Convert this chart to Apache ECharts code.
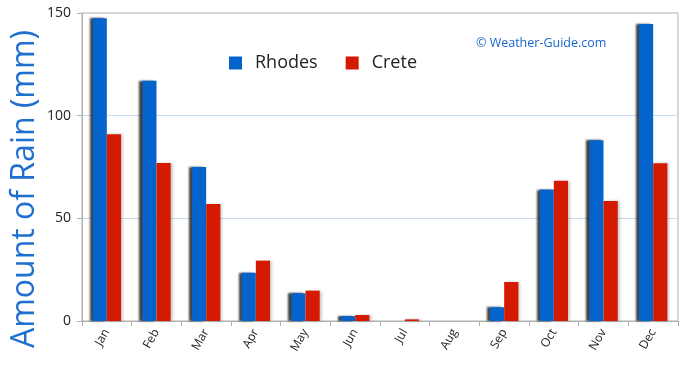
<!DOCTYPE html>
<html><head><meta charset="utf-8">
<script src="https://cdn.jsdelivr.net/npm/echarts@6/dist/echarts.min.js"></script>
<style>html,body{margin:0;padding:0;background:#fff}#c{width:690px;height:372px}</style>
</head><body><div id="c"></div>
<script>
const months = ['Jan','Feb','Mar','Apr','May','Jun','Jul','Aug','Sep','Oct','Nov','Dec'];
const rhodes = [147.5, 117, 75, 23.5, 13.5, 2.4, 0, 0, 6.7, 64, 88, 144.6];
const crete  = [91, 77, 57, 29.4, 14.8, 2.9, 0.8, 0, 19, 68.3, 58.4, 76.8];
const yTicks = [0, 50, 100, 150];

const chart = echarts.init(document.getElementById('c'));
const font = 'Open Sans';
chart.setOption({
  animation: false,
  grid: { left: 82, right: 12, top: 13, bottom: 51, show: true, borderColor: '#b0b0b0', borderWidth: 1, backgroundColor: 'transparent' },
  legend: {
    left: 224, top: 49, itemWidth: 13, itemHeight: 13, itemGap: 28, icon: 'rect',
    textStyle: { fontFamily: font, fontSize: 18, color: '#222', padding: [0, 0, 0, 8] },
    data: ['Rhodes', 'Crete']
  },
  graphic: [
    { type: 'text', x: 25, y: 189, rotation: Math.PI / 2,
      style: { text: 'Amount of Rain (mm)', font: '32px "' + font + '"', fill: '#1e6fcf', align: 'center', verticalAlign: 'middle' } },
    { type: 'text', x: 476, y: 43,
      style: { text: '© Weather-Guide.com', font: '12.5px "' + font + '"', fill: '#1a66cc', align: 'left', verticalAlign: 'middle' } }
  ],
  xAxis: {
    type: 'category', data: months, boundaryGap: true,
    axisLine: { lineStyle: { color: '#b0b0b0' } },
    axisTick: { show: true, length: 5, lineStyle: { color: '#b0b0b0' } },
    axisLabel: { rotate: 60, fontFamily: font, fontSize: 12, color: '#222', margin: 9 }
  },
  yAxis: {
    type: 'value', min: yTicks[0], max: yTicks[yTicks.length - 1], interval: 50,
    axisLine: { show: true, lineStyle: { color: '#b0b0b0' } },
    axisTick: { show: true, length: 5, lineStyle: { color: '#b0b0b0' } },
    axisLabel: { fontFamily: font, fontSize: 14, color: '#222', margin: 11 },
    splitLine: { show: true, lineStyle: { color: ['transparent', '#c8dcf0', '#c8dcf0', 'transparent'] } }
  },
  series: [
    { name: 'Rhodes', type: 'bar', data: rhodes, barWidth: '28.6%', barGap: '0%',
      itemStyle: { color: '#0563cc', shadowColor: 'rgba(0,0,0,0.75)', shadowBlur: 2, shadowOffsetX: -3, shadowOffsetY: 0 } },
    { name: 'Crete', type: 'bar', data: crete, barWidth: '28.6%', barGap: '0%',
      itemStyle: { color: '#d41a00', shadowColor: 'rgba(0,0,0,0.25)', shadowBlur: 3, shadowOffsetX: 2, shadowOffsetY: 0 } }
  ]
});
</script></body></html>
